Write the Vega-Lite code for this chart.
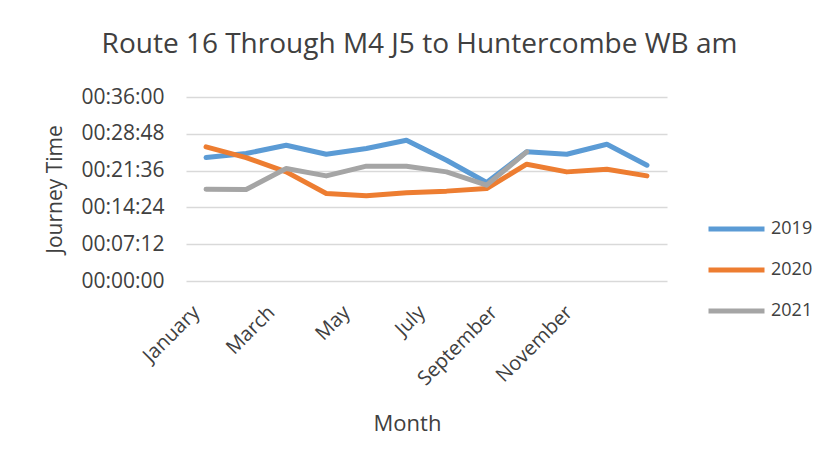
{
  "$schema": "https://vega.github.io/schema/vega-lite/v6.json",
  "autosize": "none",
  "width": 481,
  "height": 184,
  "padding": {"left": 186, "top": 97, "right": 168, "bottom": 190},
  "background": "white",
  "config": {
    "font": "Open Sans",
    "view": {"stroke": null}
  },
  "title": {
    "text": "Route 16 Through M4 J5 to Huntercombe WB am",
    "fontSize": 28,
    "fontWeight": "normal",
    "color": "#404040",
    "anchor": "middle",
    "frame": "group",
    "dx": -7,
    "offset": 27
  },
  "data": {
    "values": [
      {"Month": "January", "Year": "2019", "Seconds": 1449},
      {"Month": "February", "Year": "2019", "Seconds": 1496},
      {"Month": "March", "Year": "2019", "Seconds": 1594},
      {"Month": "April", "Year": "2019", "Seconds": 1488},
      {"Month": "May", "Year": "2019", "Seconds": 1555},
      {"Month": "June", "Year": "2019", "Seconds": 1652},
      {"Month": "July", "Year": "2019", "Seconds": 1418},
      {"Month": "August", "Year": "2019", "Seconds": 1156},
      {"Month": "September", "Year": "2019", "Seconds": 1516},
      {"Month": "October", "Year": "2019", "Seconds": 1488},
      {"Month": "November", "Year": "2019", "Seconds": 1605},
      {"Month": "December", "Year": "2019", "Seconds": 1359},
      {"Month": "January", "Year": "2020", "Seconds": 1574},
      {"Month": "February", "Year": "2020", "Seconds": 1449},
      {"Month": "March", "Year": "2020", "Seconds": 1281},
      {"Month": "April", "Year": "2020", "Seconds": 1027},
      {"Month": "May", "Year": "2020", "Seconds": 1000},
      {"Month": "June", "Year": "2020", "Seconds": 1035},
      {"Month": "July", "Year": "2020", "Seconds": 1055},
      {"Month": "August", "Year": "2020", "Seconds": 1086},
      {"Month": "September", "Year": "2020", "Seconds": 1371},
      {"Month": "October", "Year": "2020", "Seconds": 1281},
      {"Month": "November", "Year": "2020", "Seconds": 1312},
      {"Month": "December", "Year": "2020", "Seconds": 1234},
      {"Month": "January", "Year": "2021", "Seconds": 1078},
      {"Month": "February", "Year": "2021", "Seconds": 1074},
      {"Month": "March", "Year": "2021", "Seconds": 1320},
      {"Month": "April", "Year": "2021", "Seconds": 1234},
      {"Month": "May", "Year": "2021", "Seconds": 1348},
      {"Month": "June", "Year": "2021", "Seconds": 1348},
      {"Month": "July", "Year": "2021", "Seconds": 1281},
      {"Month": "August", "Year": "2021", "Seconds": 1125},
      {"Month": "September", "Year": "2021", "Seconds": 1516}
    ]
  },
  "mark": {"type": "line", "strokeWidth": 5, "strokeCap": "round", "strokeJoin": "round"},
  "encoding": {
    "x": {
      "field": "Month",
      "type": "ordinal",
      "sort": ["January","February","March","April","May","June","July","August","September","October","November","December"],
      "scale": {"type": "point", "padding": 0.5},
      "axis": {
        "title": "Month",
        "values": ["January","March","May","July","September","November"],
        "labelAngle": -45,
        "labelAlign": "right",
        "labelBaseline": "middle",
        "labelFontSize": 20,
        "labelColor": "#404040",
        "labelPadding": 28,
        "labelOffset": {
          "condition": [
            {"test": "datum.value == 'January'", "value": -10},
            {"test": "datum.value == 'March'", "value": -15},
            {"test": "datum.value == 'May'", "value": -20},
            {"test": "datum.value == 'July'", "value": -25},
            {"test": "datum.value == 'September'", "value": -33}
          ],
          "value": -38
        },
        "ticks": false,
        "domain": false,
        "grid": false,
        "titleFontSize": 22,
        "titleFontWeight": "normal",
        "titleColor": "#404040",
        "titleX": 221,
        "titleY": 149,
        "titleAlign": "center",
        "titleBaseline": "alphabetic"
      }
    },
    "y": {
      "field": "Seconds",
      "type": "quantitative",
      "scale": {"domain": [0, 2160], "nice": false, "zero": true},
      "axis": {
        "title": "Journey Time",
        "values": [0, 432, 864, 1296, 1728, 2160],
        "labelExpr": "utcFormat(datum.value * 1000, '%H:%M:%S')",
        "labelFontSize": 21,
        "labelColor": "#404040",
        "labelPadding": 22,
        "ticks": false,
        "domain": false,
        "grid": true,
        "gridColor": "#D9D9D9",
        "gridWidth": 1.5,
        "titleFontSize": 21,
        "titleFontWeight": "normal",
        "titleColor": "#404040",
        "titleAngle": -90,
        "titleX": -131,
        "titleY": 92,
        "titleAlign": "center",
        "titleBaseline": "middle"
      }
    },
    "color": {
      "field": "Year",
      "type": "nominal",
      "scale": {"domain": ["2019","2020","2021"], "range": ["#5B9BD5","#ED7D31","#A5A5A5"]},
      "legend": {
        "title": null,
        "orient": "none",
        "legendX": 520,
        "legendY": 122,
        "symbolType": "stroke",
        "symbolSize": 3136,
        "symbolStrokeWidth": 5,
        "clipHeight": 20,
        "rowPadding": 21,
        "labelFontSize": 18,
        "labelColor": "#404040",
        "labelOffset": 4
      }
    }
  }
}
